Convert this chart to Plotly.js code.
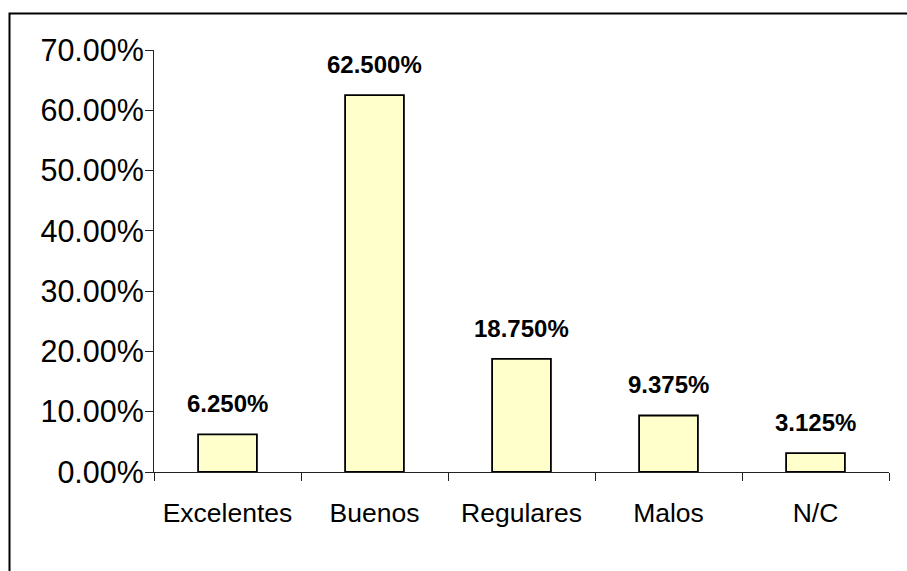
<!DOCTYPE html>
<html>
<head>
<meta charset="utf-8">
<script src="https://cdn.plot.ly/plotly-3.0.1.min.js"></script>
<style>html,body{margin:0;padding:0;background:#fff;}#chart{width:907px;height:571px;}</style>
</head>
<body>
<div id="chart"></div>
<script>
const categories = ["Excelentes", "Buenos", "Regulares", "Malos", "N/C"];
const values = [6.25, 62.5, 18.75, 9.375, 3.125];
const valueLabels = ["6.250%", "62.500%", "18.750%", "9.375%", "3.125%"];
const yTickVals = [0, 10, 20, 30, 40, 50, 60, 70];
const yTickText = ["0.00%", "10.00%", "20.00%", "30.00%", "40.00%", "50.00%", "60.00%", "70.00%"];

const W = 907, H = 571;
const mL = 154, mR = 18, mT = 50, mB = 99;
const pw = W - mL - mR, ph = H - mT - mB;

const trace = {
  type: 'bar',
  x: categories,
  y: values,
  width: 0.4,
  marker: {color: '#FFFFCC', line: {color: '#000000', width: 1.8}},
  hoverinfo: 'skip'
};

const annotations = categories.map((c, i) => ({
  x: c, y: values[i], xref: 'x', yref: 'y',
  text: '<b>' + valueLabels[i] + '</b>', showarrow: false,
  yanchor: 'bottom', yshift: 15,
  font: {family: 'Liberation Sans, Arial, sans-serif', size: 24, color: '#000'}
}));

const layout = {
  width: W, height: H,
  margin: {l: mL, r: mR, t: mT, b: mB, pad: 0},
  paper_bgcolor: '#fff', plot_bgcolor: '#fff',
  showlegend: false,
  font: {family: 'Liberation Sans, Arial, sans-serif', color: '#000'},
  xaxis: {
    type: 'category', range: [-0.5, 4.5],
    showline: true, linecolor: '#222', linewidth: 1,
    ticks: 'outside', tickson: 'boundaries', ticklen: 8, tickcolor: '#222', tickwidth: 1,
    showgrid: false, zeroline: false,
    tickfont: {size: 26.5, color: '#000'},
    ticklabelstandoff: 17,
    fixedrange: true
  },
  yaxis: {
    range: [0, 70],
    tickvals: yTickVals, ticktext: yTickText,
    showline: true, linecolor: '#222', linewidth: 1,
    ticks: 'outside', ticklen: 8, tickcolor: '#222', tickwidth: 1,
    showgrid: false, zeroline: false,
    tickfont: {size: 30.5, color: '#000'},
    ticklabelstandoff: -5,
    fixedrange: true
  },
  annotations: annotations,
  shapes: [{
    type: 'rect', xref: 'paper', yref: 'paper',
    x0: (9.5 - mL) / pw, x1: (W + 20 - mL) / pw,
    y0: (H - 13.5 - mB) / ph, y1: (-20 - mB) / ph,
    line: {color: '#000', width: 2}, fillcolor: 'rgba(0,0,0,0)'
  }]
};

Plotly.newPlot('chart', [trace], layout, {displayModeBar: false, staticPlot: true});
</script>
</body>
</html>
